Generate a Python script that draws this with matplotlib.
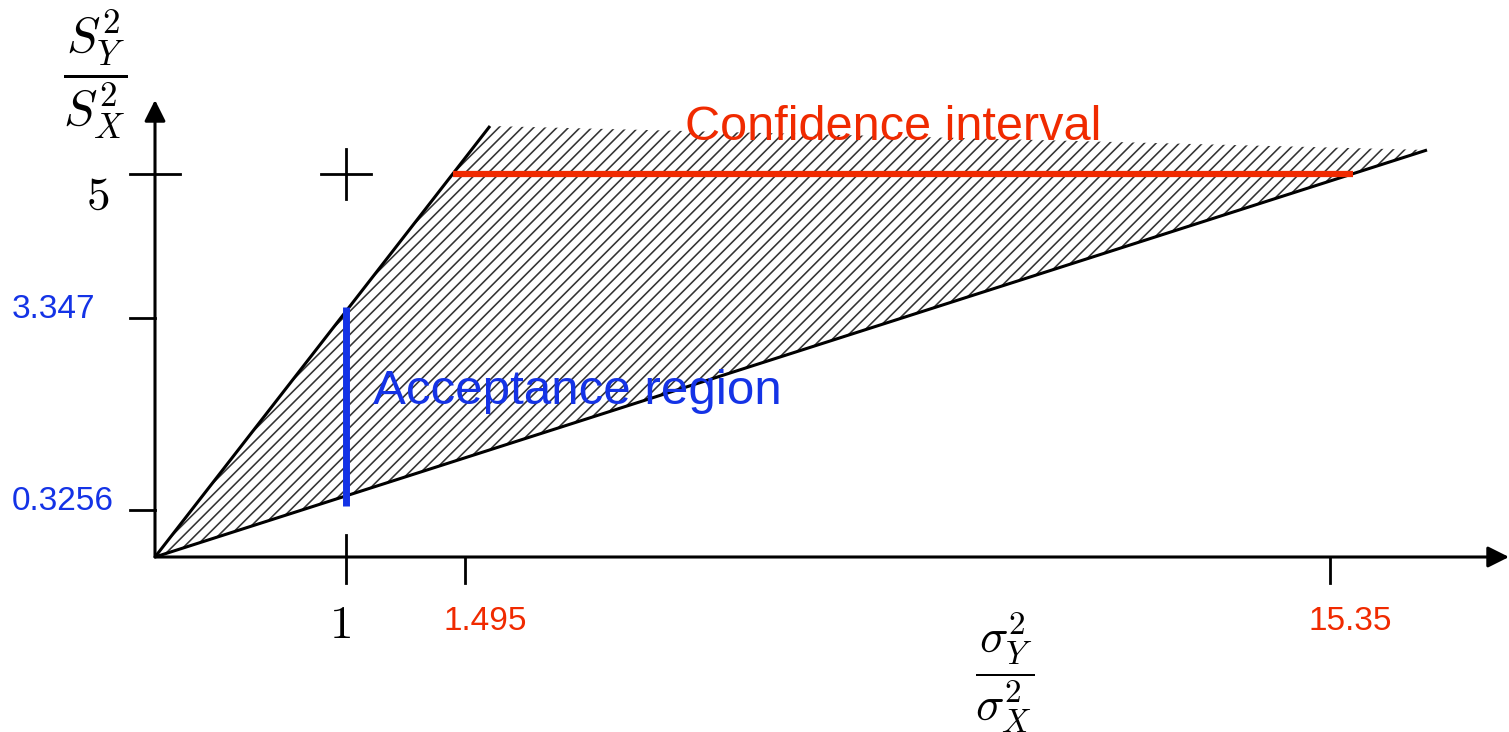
import matplotlib.pyplot as plt
import matplotlib as mpl
import numpy as np
from matplotlib.patches import Polygon
from matplotlib.collections import LineCollection

# Schematic diagram: positions are in diagram units (origin at the axes corner)
x_tick_labels = ['1', '1.495', '15.35']
x_tick_pos = [191, 310, 1175]
y_tick_labels = ['0.3256', '3.347', '5']
y_tick_pos = [47, 239, 383]

upper_end = (335, 431)     # steep boundary line
lower_end = (1272, 407)    # shallow boundary line
conf_int = (298, 1198)     # red segment x-range at y = 5
accept = (51, 250)         # blue segment y-range at x = 1

red = '#f02a00'
blue = '#1433e6'

mpl.rcParams['mathtext.fontset'] = 'cm'

fig = plt.figure(figsize=(15.09, 7.32), dpi=100)
ax = fig.add_axes([0, 0, 1, 1])
ax.set_xlim(-155, 1509 - 155)
ax.set_ylim(-(732 - 557), 557)
ax.axis('off')

# hatched region (hatch drawn by hand so spacing matches)
region = Polygon([(0, 0), upper_end, lower_end], closed=True,
                 facecolor='none', edgecolor='none')
ax.add_patch(region)
starts = np.arange(-480, 1300, 11.6)
segs = [[(c, 0), (c + 480, 480)] for c in starts]
hatch = LineCollection(segs, colors='#333333', linewidths=1.15)
ax.add_collection(hatch)
hatch.set_clip_path(region)

ax.plot([0, upper_end[0]], [0, upper_end[1]], color='k', lw=2.2, solid_capstyle='butt')
ax.plot([0, lower_end[0]], [0, lower_end[1]], color='k', lw=2.2, solid_capstyle='butt')

# axes with arrows
arr = dict(arrowstyle='-|>', lw=2.2, color='k', mutation_scale=32, shrinkA=0, shrinkB=0)
ax.annotate('', xy=(1354, 0), xytext=(0, 0), arrowprops=arr)
ax.annotate('', xy=(0, 457), xytext=(0, 0), arrowprops=arr)

# ticks
ax.plot([x_tick_pos[0]] * 2, [-26, 22], color='k', lw=2)
for xp in x_tick_pos[1:]:
    ax.plot([xp, xp], [0, -26], color='k', lw=2)
ax.plot([-25, 25], [y_tick_pos[2]] * 2, color='k', lw=2)
for yp in y_tick_pos[:2]:
    ax.plot([-25, 0], [yp, yp], color='k', lw=2)
# cross at (1, 5)
ax.plot([x_tick_pos[0] - 25, x_tick_pos[0] + 25], [y_tick_pos[2]] * 2, color='k', lw=2)
ax.plot([x_tick_pos[0]] * 2, [y_tick_pos[2] - 25, y_tick_pos[2] + 25], color='k', lw=2)

# intervals
ax.plot(conf_int, [y_tick_pos[2]] * 2, color=red, lw=4.5, solid_capstyle='butt')
ax.plot([x_tick_pos[0]] * 2, accept, color=blue, lw=5, solid_capstyle='butt')

# tick labels
ax.text(x_tick_pos[0] - 6, -68, '$' + x_tick_labels[0] + '$', fontsize=34, ha='center', va='center')
ax.text(-57, y_tick_pos[2] - 22, '$' + y_tick_labels[2] + '$', fontsize=34, ha='center', va='center')
for xp, lab in zip(x_tick_pos[1:], x_tick_labels[1:]):
    ax.text(xp + 20, -65, lab, fontsize=24, ha='center', va='center',
            color=red, family='Liberation Sans')
for yp, lab in zip(y_tick_pos[:2], y_tick_labels[:2]):
    ax.text(-143, yp + 8, lab, fontsize=24, ha='left', va='center',
            color=blue, family='Liberation Sans')

# axis labels
ax.text(-60, 483, r'$\dfrac{S_Y^2}{S_X^2}$', fontsize=36, ha='center', va='center')
ax.text(850, -115, r'$\dfrac{\sigma_Y^2}{\sigma_X^2}$', fontsize=34, ha='center', va='center')

ax.text(530, 430, 'Confidence interval', fontsize=35, color=red,
        family='Liberation Sans', ha='left', va='center')
ax.text(218, 165, 'Acceptance region', fontsize=35.5, color=blue,
        family='Liberation Sans', ha='left', va='center')

fig.savefig('out.png', dpi=100)
